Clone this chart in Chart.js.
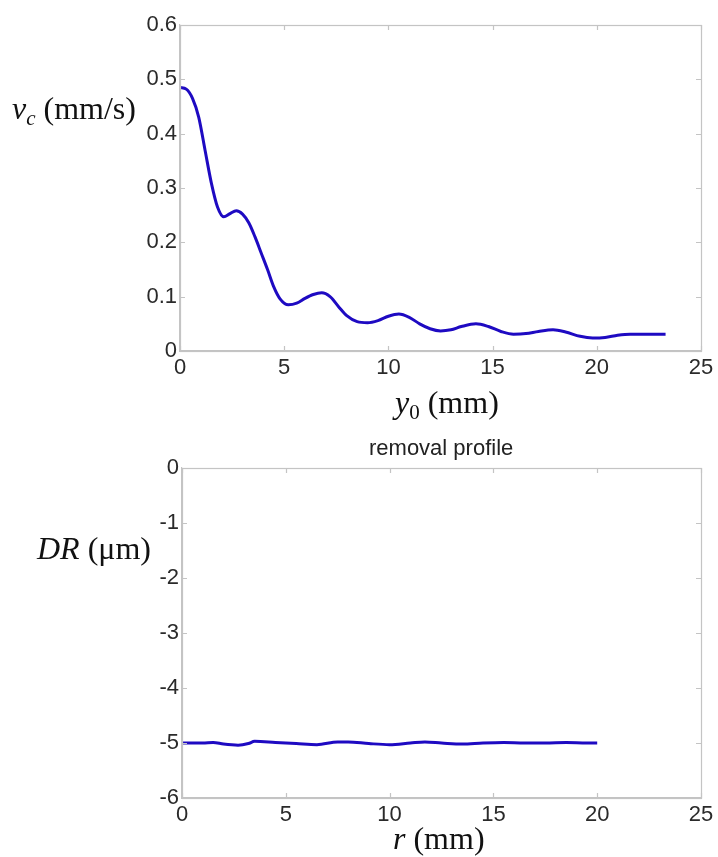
<!DOCTYPE html>
<html>
<head>
<meta charset="utf-8">
<script src="https://cdn.jsdelivr.net/npm/chart.js@4.4.1/dist/chart.umd.min.js"></script>
<style>
  html, body { margin: 0; padding: 0; background: #ffffff; }
  #wrap { position: relative; width: 718px; height: 857px; overflow: hidden; background: #fff; }
  canvas { position: absolute; left: 0; }
  .lbl { position: absolute; font-family: "Liberation Serif", "Times New Roman", serif; font-size: 32px; color: #111; white-space: nowrap; line-height: 1; }
  .lbl sub { font-size: 21px; vertical-align: -6px; line-height: 0; }
  .ttl { position: absolute; font-family: "Liberation Sans", Arial, sans-serif; font-size: 22px; color: #222; white-space: nowrap; line-height: 1; }
</style>
</head>
<body>
<div id="wrap">
  <canvas id="c1" width="718" height="420" style="top:0px;width:718px;height:420px"></canvas>
  <canvas id="c2" width="718" height="437" style="top:420px;width:718px;height:437px"></canvas>
  <div class="lbl" id="l1" style="left:12px;top:92px"><i>v</i><sub><i>c</i></sub> (mm/s)</div>
  <div class="lbl" id="l2" style="left:395px;top:386px"><i>y</i><sub>0</sub> (mm)</div>
  <div class="ttl" id="t2" style="left:369px;top:437px">removal profile</div>
  <div class="lbl" id="l3" style="left:37px;top:532px"><i>DR</i> (μm)</div>
  <div class="lbl" id="l4" style="left:393px;top:822px"><i>r</i> (mm)</div>
</div>
<script>
// ---- Top chart: v_c vs y0 ----
const topX = [0, 0.3, 0.6, 0.9, 1.2, 1.5, 1.8, 2.1, 2.4, 2.7, 3.0, 3.3, 3.6, 3.9, 4.2, 4.5, 4.8, 5.2, 5.6, 6.0, 6.4, 6.8, 7.2, 7.6, 8.0, 8.5, 9.0, 9.5, 10.0, 10.5, 11.0, 11.5, 12.0, 12.5, 13.0, 13.5, 14.2, 14.8, 15.4, 16.0, 16.6, 17.2, 17.9, 18.5, 19.2, 19.8, 20.4, 21.0, 21.6, 22.4, 23.3];
const topY = [0.485, 0.482, 0.465, 0.43, 0.37, 0.31, 0.265, 0.247, 0.253, 0.258, 0.252, 0.236, 0.21, 0.18, 0.15, 0.118, 0.096, 0.085, 0.088, 0.097, 0.104, 0.107, 0.1, 0.082, 0.065, 0.054, 0.052, 0.056, 0.064, 0.068, 0.062, 0.05, 0.041, 0.037, 0.039, 0.045, 0.05, 0.045, 0.036, 0.031, 0.032, 0.036, 0.039, 0.035, 0.027, 0.024, 0.025, 0.029, 0.031, 0.031, 0.031];
const topXTicks = [0, 5, 10, 15, 20, 25];
const topYTicks = [0, 0.1, 0.2, 0.3, 0.4, 0.5, 0.6];

// ---- Bottom chart: removal profile ----
const botX = [0, 1, 1.5, 2, 2.7, 3.2, 3.5, 4.5, 5.5, 6.5, 7.5, 8, 9, 10, 11, 11.7, 12.5, 13.5, 14.5, 15.5, 16.5, 17.5, 18.5, 19.5, 20];
const botY = [-5.0, -5.0, -4.99, -5.02, -5.04, -5.01, -4.97, -4.99, -5.01, -5.03, -4.98, -4.98, -5.01, -5.03, -5.0, -4.98, -5.0, -5.02, -5.0, -4.99, -5.0, -5.0, -4.99, -5.0, -5.0];
const botXTicks = [0, 5, 10, 15, 20, 25];
const botYTicks = [-6, -5, -4, -3, -2, -1, 0];

const LINE = '#1e0ac2';
const AXIS = '#c4c4c4';
const TICKTXT = '#2a2a2a';
const tickFont = { family: '"Liberation Sans", Arial, sans-serif', size: 22 };

const framePlugin = {
  id: 'frame',
  afterDraw(chart) {
    const { ctx, chartArea: a, scales } = chart;
    ctx.save();
    ctx.strokeStyle = AXIS;
    ctx.lineWidth = 1.2;
    ctx.strokeRect(Math.round(a.left) + 0.5, Math.round(a.top) + 0.5, Math.round(a.right - a.left), Math.round(a.bottom - a.top));
    ctx.beginPath();
    const xs = scales.x, ys = scales.y;
    xs.ticks.forEach(t => {
      const px = Math.round(xs.getPixelForValue(t.value)) + 0.5;
      ctx.moveTo(px, a.bottom); ctx.lineTo(px, a.bottom - 5);
      ctx.moveTo(px, a.top); ctx.lineTo(px, a.top + 5);
    });
    ys.ticks.forEach(t => {
      const py = Math.round(ys.getPixelForValue(t.value)) + 0.5;
      ctx.moveTo(a.left, py); ctx.lineTo(a.left + 5, py);
      ctx.moveTo(a.right, py); ctx.lineTo(a.right - 5, py);
    });
    ctx.stroke();
    ctx.restore();
  }
};

function makeChart(id, xs, ys, xTicks, yTicks, opts) {
  const data = xs.map((x, i) => ({ x: x, y: ys[i] }));
  return new Chart(document.getElementById(id), {
    type: 'line',
    data: { datasets: [{ data: data, borderColor: LINE, borderWidth: 3, pointRadius: 0, fill: false, cubicInterpolationMode: 'monotone', tension: 0.4 }] },
    options: {
      responsive: false,
      animation: false,
      devicePixelRatio: 1,
      layout: { padding: opts.padding },
      plugins: { legend: { display: false }, tooltip: { enabled: false }, title: { display: false } },
      scales: {
        x: {
          type: 'linear',
          min: xTicks[0], max: xTicks[xTicks.length - 1],
          afterBuildTicks: s => { s.ticks = xTicks.map(v => ({ value: v })); },
          afterFit: s => { s.height = opts.xH; },
          grid: { display: false, drawTicks: false },
          border: { display: true, color: AXIS, width: 1.2 },
          ticks: { color: TICKTXT, font: tickFont, padding: 4, maxRotation: 0, autoSkip: false }
        },
        y: {
          type: 'linear',
          min: yTicks[0], max: yTicks[yTicks.length - 1],
          afterBuildTicks: s => { s.ticks = yTicks.map(v => ({ value: v })); },
          afterFit: s => { s.width = opts.yW; },
          grid: { display: false, drawTicks: false },
          border: { display: true, color: AXIS, width: 1.2 },
          ticks: { color: TICKTXT, font: tickFont, padding: 3, autoSkip: false,
                   callback: v => String(Math.round(v * 10) / 10) }
        }
      }
    },
    plugins: [framePlugin]
  });
}

makeChart('c1', topX, topY, topXTicks, topYTicks, { padding: { top: 25, right: 17, left: 0, bottom: 0 }, xH: 69, yW: 180 });
makeChart('c2', botX, botY, botXTicks, botYTicks, { padding: { top: 48, right: 17, left: 0, bottom: 0 }, xH: 59, yW: 182 });
</script>
</body>
</html>
